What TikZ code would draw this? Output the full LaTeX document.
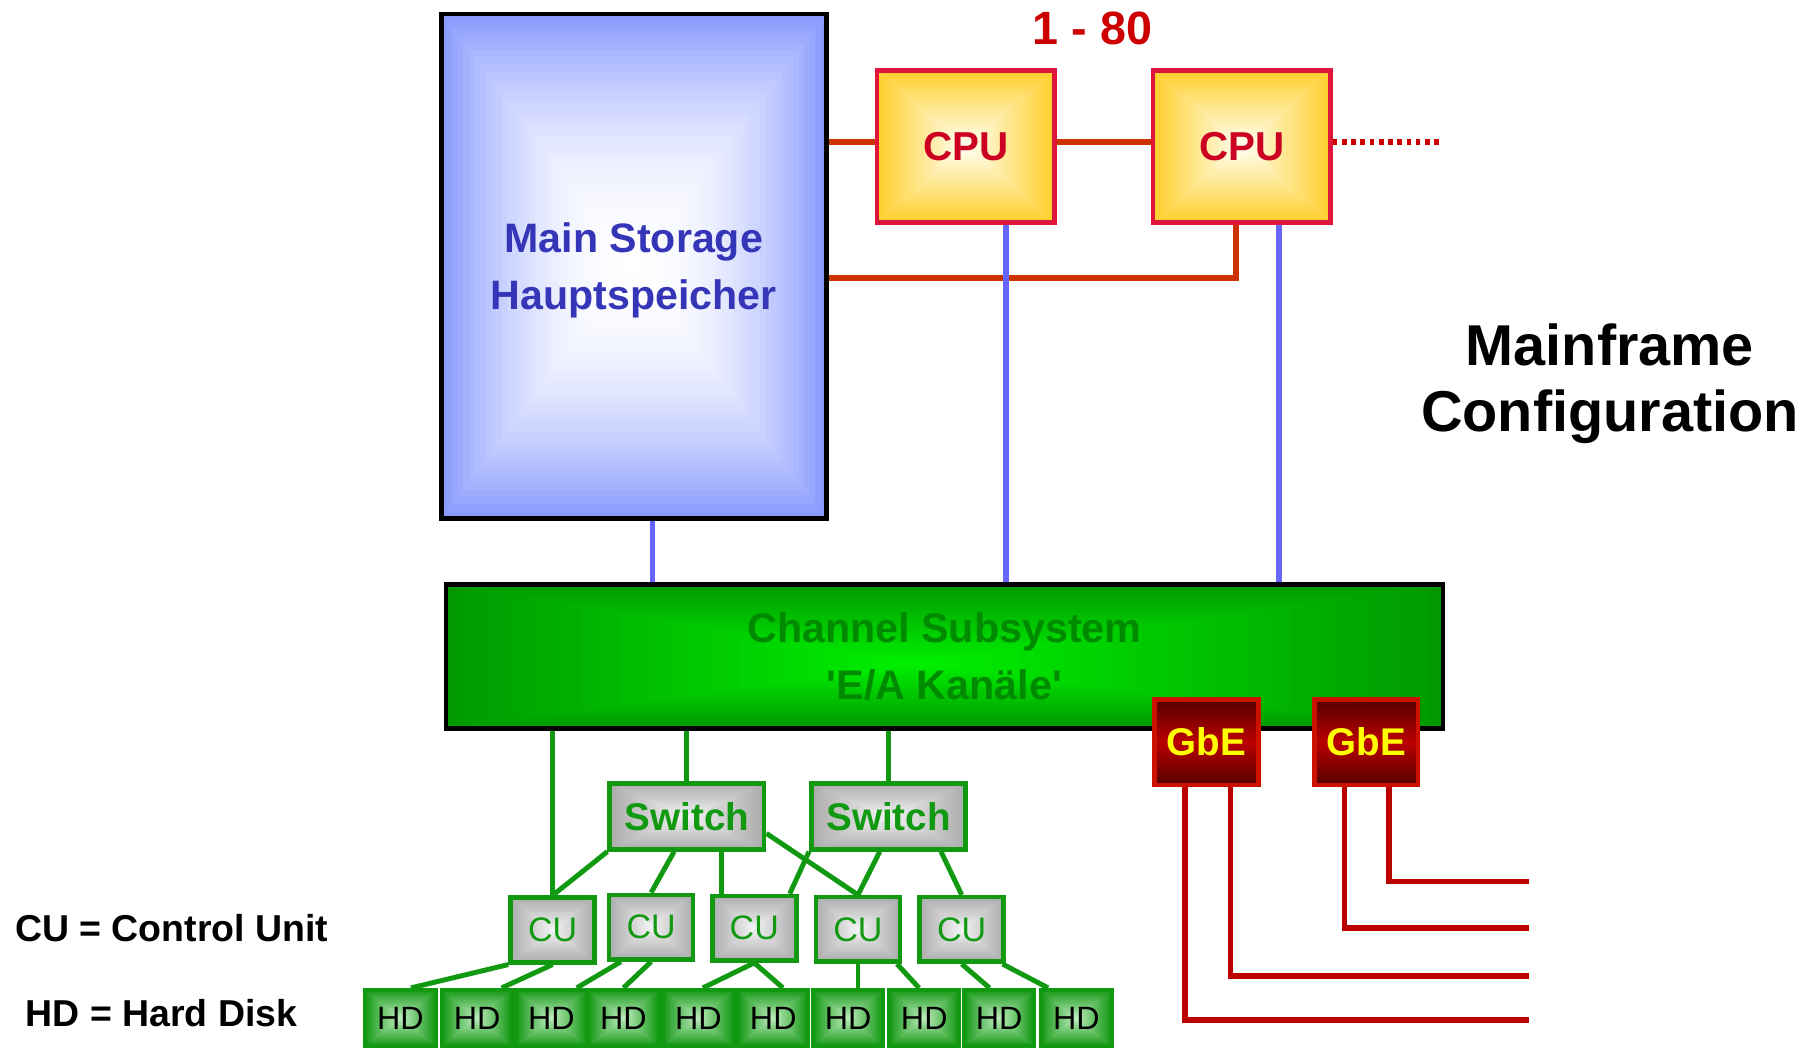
\documentclass[tikz,border=0pt]{standalone}
\usepackage{fontspec}
\newfontfamily\arialf{Liberation Sans}
\usetikzlibrary{calc}
\definecolor{msblue}{HTML}{8A9BFF}
\definecolor{mstext}{HTML}{3535B8}
\definecolor{cpured}{HTML}{E0153C}
\definecolor{cpugold}{HTML}{FFCF2E}
\definecolor{cpuin}{HTML}{FFFFF2}
\definecolor{cputext}{HTML}{CC0022}
\definecolor{numred}{HTML}{CC0000}
\definecolor{orline}{HTML}{CC3300}
\definecolor{blueln}{HTML}{6666FF}
\definecolor{chout}{HTML}{009A00}
\definecolor{chin}{HTML}{00F000}
\definecolor{chtext}{HTML}{008A00}
\definecolor{gbedark}{HTML}{550000}
\definecolor{gbemid}{HTML}{BB0000}
\definecolor{gbeedge}{HTML}{CC1100}
\definecolor{gbetext}{HTML}{FFFF00}
\definecolor{gbln}{HTML}{BB0000}
\definecolor{swgreen}{HTML}{119911}
\definecolor{grout}{HTML}{ADADAD}
\definecolor{grin}{HTML}{F2F2F2}
\definecolor{hdout}{HTML}{159915}
\definecolor{hdin}{HTML}{BDEBBD}
\tikzset{
  rgrad/.style n args={5}{path picture={%
    \path (path picture bounding box.south west) coordinate (gsw)
          (path picture bounding box.north east) coordinate (gne);
    \coordinate (gx) at ($(gsw)!#3!(gne)$);
    \coordinate (gy) at ($(gsw)!#4!(gne)$);
    \coordinate (gc) at (gx |- gy);
    \foreach \gi in {0,...,34}{%
      \pgfmathsetmacro\gradT{\gi/35}%
      \pgfmathtruncatemacro\gradP{100*(1-(1-\gi/34)^#5)}%
      \fill[color=#2!\gradP!#1] ($(gsw)!\gradT!(gc)$) rectangle ($(gne)!\gradT!(gc)$);
    }}},
  msbox/.style={draw=black, line width=4pt, inner sep=0pt, minimum width=334pt, minimum height=438pt,
    rgrad={msblue}{white}{0.5}{0.5}{2}, text=mstext, align=center,
    font=\arialf\bfseries\fontsize{35.7}{49}\selectfont},
  cpubox/.style={draw=cpured, line width=4pt, inner sep=0pt, minimum width=154pt, minimum height=132pt,
    rgrad={cpugold}{cpuin}{0.5}{0.5}{1}, text=cputext, font=\arialf\bfseries\fontsize{35}{35}\selectfont},
  chanbox/.style={draw=black, line width=4pt, inner sep=0pt, minimum width=865pt, minimum height=125pt,
    rgrad={chout}{chin}{0.47}{0.45}{1}, text=chtext, align=center,
    font=\arialf\bfseries\fontsize{35.8}{49}\selectfont},
  gbebox/.style={draw=gbeedge, line width=4pt, inner sep=0pt, minimum width=90pt, minimum height=74pt,
    top color=gbedark, bottom color=gbedark, middle color=gbemid, text=gbetext,
    font=\arialf\bfseries\fontsize{33.5}{33.5}\selectfont},
  swbox/.style={draw=swgreen, line width=4pt, inner sep=0pt, minimum width=134pt, minimum height=57pt,
    rgrad={grout}{grin}{0.5}{0.5}{1}, text=swgreen, font=\arialf\bfseries\fontsize{33.5}{33.5}\selectfont},
  cubox/.style={draw=swgreen, line width=4pt, inner sep=0pt, minimum width=73pt, minimum height=56pt,
    rgrad={grout}{grin}{0.5}{0.5}{1}, text=swgreen, font=\arialf\fontsize{29.5}{29.5}\selectfont},
  hdbox/.style={draw=swgreen, line width=3.5pt, inner sep=0pt, minimum width=61pt, minimum height=49pt,
    rgrad={hdout}{hdin}{0.5}{0.5}{1}, text=black, font=\arialf\fontsize{28}{28}\selectfont},
  numlabel/.style={text=numred, inner sep=0pt, font=\arialf\bfseries\fontsize{40.5}{40.5}\selectfont},
  titlelabel/.style={text=black, inner sep=0pt, align=center, font=\arialf\bfseries\fontsize{50}{58}\selectfont},
  legend/.style={text=black, inner sep=0pt, anchor=west, font=\arialf\bfseries\fontsize{32.5}{32.5}\selectfont},
  oline/.style={draw=orline, line width=5pt},
  bline/.style={draw=blueln, line width=5pt},
  dline/.style={draw=numred, line width=5pt, dash pattern=on 4pt off 4pt},
  gbline/.style={draw=gbln, line width=5pt},
  gline/.style={draw=swgreen, line width=4.3pt}
}
\begin{document}
\begin{tikzpicture}[x=1pt,y=-1pt]
\useasboundingbox[fill=white] (0,0) rectangle (1568,909);

% main blocks
\node[msbox] (ms) at (550,231) {\raisebox{0pt}[\dimexpr\height+8pt\relax][\depth]{\shortstack{Main Storage\\[13pt]Hauptspeicher}}};
\node[cpubox] (cpu1) at (838,127) {CPU};
\node[cpubox] (cpu2) at (1077.5,127) {CPU};
\node[numlabel] (num) at (948,25) {1 - 80};
\node[titlelabel] (title) at (1397,333) {Mainframe\\Configuration};
\node[chanbox] (chan) at (819.5,569.5) {Channel Subsystem\\'E/A Kanäle'};
\node[gbebox] (gbe1) at (1047,644) {GbE};
\node[gbebox] (gbe2) at (1185.5,644) {GbE};

% switches, control units, disks
\node[swbox] (sw1) at (596,708.5) {Switch};
\node[swbox] (sw2) at (771,708.5) {Switch};
\node[cubox] (cu1) at (479.5,807) {CU};
\node[cubox] (cu2) at (565,804.5) {CU};
\node[cubox] (cu3) at (654.5,805.5) {CU};
\node[cubox] (cu4) at (744.5,806.5) {CU};
\node[cubox] (cu5) at (834.5,806.5) {CU};
\foreach \x [count=\k] in {347.5,414,478.5,541,606,671,736,802,867,934}
  \node[hdbox] (hd\k) at (\x,883.5) {HD};

% legend
\node[legend] (lcu) at (13,805) {CU = Control Unit};
\node[legend] (lhd) at (22,879) {HD = Hard Disk};

% helper coordinates
\path ($(cpu1.north west)!0.47!(cpu1.south west)$) coordinate (o1)
      ($(cpu1.north east)!0.47!(cpu1.south east)$) coordinate (o2)
      ($(cpu2.north east)!0.47!(cpu2.south east)$) coordinate (o3)
      ($(cpu2.south west)!0.47!(cpu2.south east)$) coordinate (o4)
      ($(ms.north east)!0.523!(ms.south east)$) coordinate (o5)
      ($(ms.south west)!0.548!(ms.south east)$) coordinate (b1)
      ($(cpu1.south west)!0.72!(cpu1.south east)$) coordinate (b2)
      ($(cpu2.south west)!0.703!(cpu2.south east)$) coordinate (b3)
      ($(gbe1.south west)!0.3!(gbe1.south east)$) coordinate (g1a)
      ($(gbe1.south west)!0.72!(gbe1.south east)$) coordinate (g1b)
      ($(gbe2.south west)!0.3!(gbe2.south east)$) coordinate (g2a)
      ($(gbe2.south west)!0.71!(gbe2.south east)$) coordinate (g2b)
      ($(sw1.south west)!0.715!(sw1.south east)$) coordinate (s1c);
\coordinate (dotend) at (1250,123);
\coordinate (e1) at (1327,885);
\coordinate (e2) at (1327,847);
\coordinate (e3) at (1327,805);
\coordinate (e4) at (1327,765);

% orange memory bus
\draw[oline] (o1) -- (o1 -| ms.east);
\draw[oline] (o2) -- (o2 -| cpu2.west);
\draw[oline] (o4) |- (o5);
\draw[dline] (o3) -- (o3 -| dotend);

% blue links to channel subsystem
\draw[bline] (b1) -- (b1 |- chan.north);
\draw[bline] (b2) -- (b2 |- chan.north);
\draw[bline] (b3) -- (b3 |- chan.north);

% GbE links
\draw[gbline] (g1a) |- (e1);
\draw[gbline] (g1b) |- (e2);
\draw[gbline] (g2a) |- (e3);
\draw[gbline] (g2b) |- (e4);

% channel to switches / CU
\draw[gline] (cu1.north) -- (cu1.north |- chan.south);
\draw[gline] (sw1.north) -- (sw1.north |- chan.south);
\draw[gline] (sw2.north) -- (sw2.north |- chan.south);

% switches to CUs
\draw[gline] (sw1.south west) -- (cu1.north);
\draw[gline] ($(sw1.south west)!0.42!(sw1.south east)$) -- (cu2.north);
\draw[gline] (s1c) -- (s1c |- cu3.north);
\draw[gline] ($(sw1.north east)!0.74!(sw1.south east)$) -- (cu4.north);
\draw[gline] (sw2.south west) -- ($(cu3.north west)!0.9!(cu3.north east)$);
\draw[gline] ($(sw2.south west)!0.445!(sw2.south east)$) -- (cu4.north);
\draw[gline] ($(sw2.south west)!0.83!(sw2.south east)$) -- (cu5.north);

% CUs to disks
\draw[gline] (cu1.south west) -- ($(hd1.north west)!0.64!(hd1.north east)$);
\draw[gline] (cu1.south) -- ($(hd2.north west)!0.83!(hd2.north east)$);
\draw[gline] ($(cu2.south west)!0.16!(cu2.south east)$) -- ($(hd3.north west)!0.84!(hd3.north east)$);
\draw[gline] (cu2.south) -- (hd4.north);
\draw[gline] (cu3.south) -- ($(hd5.north west)!0.56!(hd5.north east)$);
\draw[gline] (cu3.south) -- ($(hd6.north west)!0.63!(hd6.north east)$);
\draw[gline] (cu4.south) -- (cu4.south |- hd7.north);
\draw[gline] ($(cu4.south west)!0.94!(cu4.south east)$) -- ($(hd8.north west)!0.43!(hd8.north east)$);
\draw[gline] (cu5.south) -- ($(hd9.north west)!0.37!(hd9.north east)$);
\draw[gline] ($(cu5.south west)!0.96!(cu5.south east)$) -- ($(hd10.north west)!0.12!(hd10.north east)$);
\end{tikzpicture}
\end{document}
